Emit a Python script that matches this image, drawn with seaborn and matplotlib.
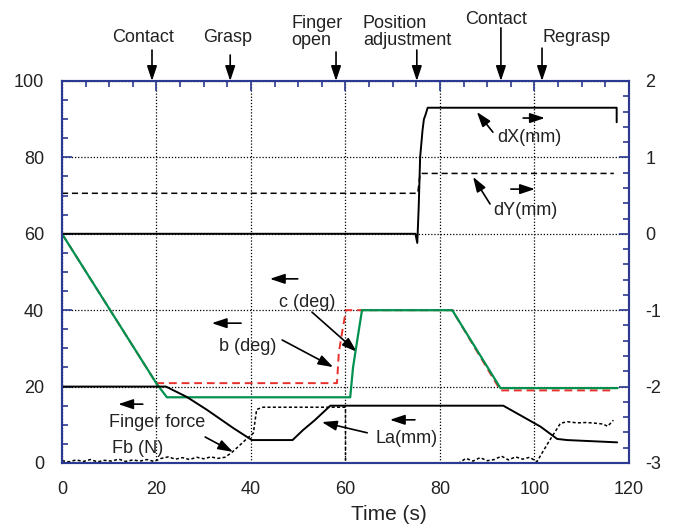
import matplotlib
matplotlib.use("Agg")
from matplotlib import pyplot as plt
from matplotlib.ticker import MultipleLocator
import seaborn as sns

# ---- data (time in s) ----
# left axis series
c_t = [0, 20.0, 22.2, 61.0, 61.6, 62.6, 63.5, 82.6, 92.8, 117.6]
c_v = [60, 20.8, 17.2, 17.2, 25.0, 33.0, 40.0, 40.0, 19.6, 19.6]

b_t = [0, 20.0, 20.3, 58.2, 58.6, 59.4, 60.1, 63.5, 82.6, 92.8, 116.8]
b_v = [60, 20.8, 20.9, 20.9, 29.0, 35.0, 40.0, 40.0, 40.0, 19.0, 19.0]

la_t = [0, 22.0, 26.4, 30.7, 36.3, 40.2, 48.8, 51.0, 53.5, 56.8, 93.4, 97.0, 101.3, 104.8, 106.9, 117.5]
la_v = [20, 20, 17.3, 13.9, 9.1, 6.0, 6.0, 8.6, 11.2, 15.0, 15.0, 12.5, 9.5, 6.3, 6.0, 5.4]

fb_t = [0, 1.5, 3, 4.5, 6, 7.5, 9, 10.5, 12, 13.5, 15, 16.5, 18, 19.5, 21, 22.5, 24, 25.5, 27,
        28.5, 30, 31.5, 33, 34.5, 35.9, 37.5, 38.8, 40.5, 41.2, 42.5, 57, 60, 60.01, 84,
        85.5, 87, 88.5, 90, 91.5, 93, 94.5, 96, 97.5, 99, 100.5, 103, 105.5, 107, 109,
        111, 113, 114.5, 115.5, 116.7]
fb_v = [0.6, 0.3, 0.8, 0.4, 0.9, 0.3, 0.7, 0.5, 1.0, 0.4, 0.8, 0.5, 0.9, 0.4, 1.2, 1.6, 1.0, 1.4,
        0.9, 1.5, 1.1, 1.6, 1.2, 1.5, 2.7, 4.5, 6.0, 7.8, 14.0, 14.6, 14.6, 14.6, 0.0, 0.0,
        1.2, 0.5, 1.4, 0.6, 0.9, 1.8, 0.8, 1.6, 1.0, 1.5, 0.3, 5.5, 10.4, 10.8, 10.5,
        10.6, 10.4, 10.2, 9.6, 11.2]

# right axis series
dx_t = [0, 74.8, 75.2, 75.5, 75.8, 76.3, 76.6, 76.9, 77.4, 117.4, 117.4]
dx_v = [0, 0, -0.12, 0.35, 1.0, 1.35, 1.5, 1.55, 1.65, 1.65, 1.46]

dy_t = [0, 75.3, 75.8, 116.8]
dy_v = [0.53, 0.53, 0.79, 0.79]

BLUE = "#2b3990"
GREEN = "#00914f"
RED = "#e8302a"
TXT = "#222222"

sns.set_style("white")
plt.rcParams["font.family"] = ["Liberation Sans", "DejaVu Sans"]

fig = plt.figure(figsize=(6.79, 5.29), dpi=100)
ax = fig.add_axes([0.0913, 0.1248, 0.835, 0.7221])
ax2 = ax.twinx()

ax.set_xlim(0, 120)
ax.set_ylim(0, 100)
ax2.set_ylim(-3, 2)

ax.grid(True, which="major", color="black", linestyle=(0, (1, 1.5)), linewidth=0.9)
ax.set_axisbelow(True)

sns.lineplot(x=c_t, y=c_v, ax=ax, color=GREEN, linewidth=1.6, estimator=None, sort=False, zorder=4)
sns.lineplot(x=b_t, y=b_v, ax=ax, color=RED, linewidth=1.4, linestyle=(0, (4, 2.5)),
             estimator=None, sort=False, zorder=3)
sns.lineplot(x=fb_t, y=fb_v, ax=ax, color="black", linewidth=1.1, linestyle=(0, (2, 1.5)),
             estimator=None, sort=False, zorder=3)
sns.lineplot(x=la_t, y=la_v, ax=ax, color="black", linewidth=1.4, estimator=None, sort=False, zorder=5)

sns.lineplot(x=dx_t, y=dx_v, ax=ax2, color="black", linewidth=1.4, estimator=None, sort=False)
sns.lineplot(x=dy_t, y=dy_v, ax=ax2, color="black", linewidth=1.1, linestyle=(0, (4, 2.5)),
             estimator=None, sort=False)

# ticks and frame
ax.xaxis.set_major_locator(MultipleLocator(20))
ax.xaxis.set_minor_locator(MultipleLocator(5))
ax.yaxis.set_major_locator(MultipleLocator(20))
ax.yaxis.set_minor_locator(MultipleLocator(5))
ax2.yaxis.set_major_locator(MultipleLocator(1))
ax2.yaxis.set_minor_locator(MultipleLocator(0.2))

for a in (ax, ax2):
    for sp in a.spines.values():
        sp.set_color(BLUE)
        sp.set_linewidth(1.5)
ax.tick_params(which="both", direction="in", color=BLUE, top=True, labelsize=13,
               labelcolor=TXT, width=1.2)
ax.tick_params(which="major", length=7)
ax.tick_params(which="minor", length=4)
ax.tick_params(axis="x", which="major", pad=13)
ax.tick_params(axis="y", which="major", pad=13)
ax.tick_params(axis="y", right=False)
ax2.tick_params(which="both", direction="in", color=BLUE, labelsize=13, labelcolor=TXT, width=1.2)
ax2.tick_params(which="major", length=7, pad=12)
ax2.tick_params(which="minor", length=4)
ax2.set_yticks([-3, -2, -1, 0, 1, 2])
ax2.set_yticklabels(["-3", "-2", "-1", "0", "1", "2"])

ax.set_xlabel("")
ax.set_ylabel("")
ax2.set_ylabel("")
ax.text(0.577, -0.135, "Time (s)", transform=ax.transAxes, ha="center", va="center",
        fontsize=15, color=TXT)

arr = dict(arrowstyle="-|>,head_length=0.6,head_width=0.2", color="black", lw=1.2,
           mutation_scale=15, shrinkA=0, shrinkB=0)
fs = 13

# events above the plot: label, text x, text y, alignment, arrow x, arrow start y
events = [
    ("Contact", 17.1, 111.3, "center", 19.05, 108.1),
    ("Grasp", 35.1, 111.3, "center", 35.6, 106.8),
    ("Finger\nopen", 48.5, 112.9, "left", 58.0, 107.6),
    ("Position\nadjustment", 63.7, 112.9, "left", 75.1, 108.1),
    ("Contact", 91.9, 116.2, "center", 92.9, 113.9),
    ("Regrasp", 109.0, 111.5, "center", 101.6, 108.6),
]
for label, tx, ty, ha, ax_x, ay in events:
    ax.text(tx, ty, label, ha=ha, va="center", fontsize=fs, color=TXT,
            linespacing=1.0, multialignment="left", clip_on=False)
    ax.annotate("", xy=(ax_x, 100.0), xytext=(ax_x, ay), arrowprops=arr, annotation_clip=False)

# labels inside the plot
ax.text(99.0, 85.3, "dX(mm)", ha="center", va="center", fontsize=fs, color=TXT)
ax.annotate("", xy=(87.8, 91.9), xytext=(91.2, 86.6), arrowprops=arr)
ax.annotate("", xy=(102.2, 90.3), xytext=(97.6, 90.3), arrowprops=arr)

ax.text(98.0, 66.2, "dY(mm)", ha="center", va="center", fontsize=fs, color=TXT)
ax.annotate("", xy=(87.0, 74.9), xytext=(90.6, 67.8), arrowprops=arr)
ax.annotate("", xy=(100.1, 71.7), xytext=(95.0, 71.7), arrowprops=arr)

ax.text(51.9, 42.1, "c (deg)", ha="center", va="center", fontsize=fs, color=TXT)
ax.annotate("", xy=(62.4, 29.1), xytext=(52.9, 39.5), arrowprops=arr)
ax.annotate("", xy=(44.0, 48.2), xytext=(49.9, 48.2), arrowprops=arr)

ax.text(39.2, 30.4, "b (deg)", ha="center", va="center", fontsize=fs, color=TXT)
ax.annotate("", xy=(57.4, 25.1), xytext=(46.6, 32.2), arrowprops=arr)
ax.annotate("", xy=(31.7, 36.6), xytext=(37.9, 36.6), arrowprops=arr)

ax.text(20.1, 10.5, "Finger force", ha="center", va="center", fontsize=fs, color=TXT)
ax.text(16.1, 3.9, "Fb (N)", ha="center", va="center", fontsize=fs, color=TXT)
ax.annotate("", xy=(36.2, 2.9), xytext=(30.3, 6.8), arrowprops=arr)
ax.annotate("", xy=(11.9, 15.4), xytext=(17.1, 15.4), arrowprops=arr)

ax.text(73.0, 6.5, "La(mm)", ha="center", va="center", fontsize=fs, color=TXT)
ax.annotate("", xy=(55.0, 10.7), xytext=(64.6, 7.9), arrowprops=arr)
ax.annotate("", xy=(69.4, 11.3), xytext=(74.7, 11.3), arrowprops=arr)

fig.savefig("out.png", dpi=100)
plt.close(fig)
